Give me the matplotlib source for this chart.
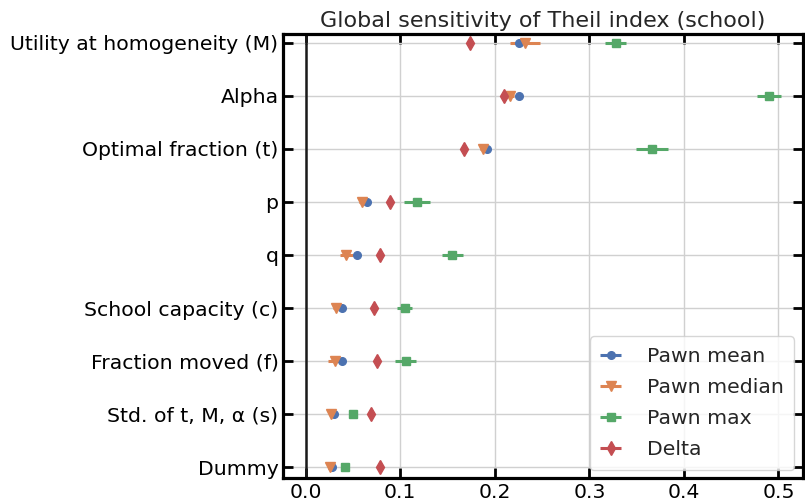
import matplotlib
matplotlib.use("Agg")
import matplotlib.pyplot as plt
import seaborn as sns
import numpy as np

sns.set_theme(style="whitegrid")
plt.rcParams['font.family'] = ['DejaVu Sans']

categories = ["Utility at homogeneity (M)", "Alpha", "Optimal fraction (t)", "p", "q",
              "School capacity (c)", "Fraction moved (f)", "Std. of t, M, \u03b1 (s)", "Dummy"]

pawn_mean = [0.226, 0.226, 0.192, 0.065, 0.054, 0.038, 0.038, 0.030, 0.028]
pawn_mean_err = [0.003, 0.002, 0.002, 0.002, 0.002, 0.002, 0.002, 0.001, 0.001]
pawn_median = [0.232, 0.216, 0.188, 0.060, 0.043, 0.032, 0.031, 0.027, 0.026]
pawn_median_err = [0.016, 0.004, 0.004, 0.003, 0.007, 0.003, 0.007, 0.002, 0.002]
pawn_max = [0.328, 0.490, 0.366, 0.118, 0.155, 0.105, 0.106, 0.050, 0.042]
pawn_max_err = [0.011, 0.013, 0.017, 0.014, 0.011, 0.008, 0.011, 0.003, 0.003]
delta = [0.174, 0.210, 0.168, 0.089, 0.079, 0.072, 0.076, 0.069, 0.079]
delta_err = [0.001, 0.001, 0.001, 0.001, 0.001, 0.001, 0.001, 0.001, 0.001]

series = [
    ("Pawn mean", pawn_mean, pawn_mean_err, "o", "#4C72B0", 5.5),
    ("Pawn median", pawn_median, pawn_median_err, "v", "#DD8452", 6.5),
    ("Pawn max", pawn_max, pawn_max_err, "s", "#55A868", 5.5),
    ("Delta", delta, delta_err, "d", "#C44E52", 7),
]

fig = plt.figure(figsize=(8.05, 5.04), dpi=100)
ax = fig.add_axes([0.352, 0.052, 0.645, 0.881])

y = np.arange(len(categories))
for label, vals, errs, mk, col, ms in series:
    ax.errorbar(vals, y, xerr=errs, fmt=mk, color=col, markersize=ms,
                elinewidth=2.2, capsize=0, linestyle="none", label=label)

ax.axvline(0, color="k", lw=1.8, zorder=1)
ax.set_yticks(y)
ax.set_yticklabels(categories, fontsize=14.7, color="black")
ax.set_ylim(8.2, -0.17)
ax.set_xlim(-0.0235, 0.5255)
ax.set_xticks([0.0, 0.1, 0.2, 0.3, 0.4, 0.5])
ax.set_xticklabels(["0.0", "0.1", "0.2", "0.3", "0.4", "0.5"], fontsize=14.7, color="black")
ax.set_title("Global sensitivity of Theil index (school)", fontsize=16, color="#262626", pad=5)

for s in ax.spines.values():
    s.set_color("black")
    s.set_linewidth(2.3)
ax.tick_params(axis="both", which="major", direction="in", length=7, width=2,
               top=True, right=True, bottom=True, left=True, color="black")
ax.grid(True, color="#d0d0d0", lw=1)

leg = ax.legend(loc="lower right", fontsize=14.7, handlelength=1.0, handletextpad=1.3,
                frameon=True, borderaxespad=0.4, labelspacing=0.6, borderpad=0.5)

fig.savefig("out.png", dpi=100)
